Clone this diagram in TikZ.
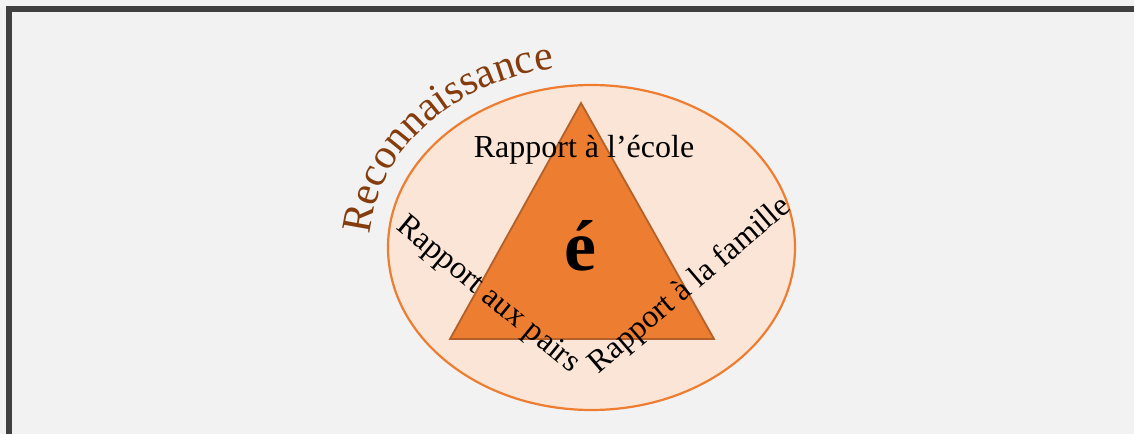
\documentclass[tikz,border=0pt]{standalone}
\usepackage{fontspec}
\setmainfont{Liberation Serif}
\usetikzlibrary{decorations.text}
\definecolor{bg}{HTML}{F2F2F2}
\definecolor{frame}{HTML}{404040}
\definecolor{ellfill}{HTML}{FBE5D6}
\definecolor{orange}{HTML}{ED7D31}
\definecolor{triedge}{HTML}{B4602A}
\definecolor{brownR}{HTML}{843C0C}
\tikzset{
  lbl/.style={font=\fontsize{32}{36}\selectfont, text=black, inner sep=0pt},
}
\begin{document}
\begin{tikzpicture}[x=1pt,y=1pt]
\useasboundingbox (0,0) rectangle (1134,434);
\fill[bg] (0,0) rectangle (1134,434);
\fill[frame] (6,422) rectangle (1134,428);
\fill[frame] (6,0) rectangle (12,428);
% ellipse
\draw[fill=ellfill, draw=orange, line width=2.2pt] (591.5,186.5) ellipse [x radius=203.5, y radius=162.5];
\coordinate (c) at (591.5,186.5);
% triangle
\coordinate (A) at (581,331);
\coordinate (B) at (450,95);
\coordinate (C) at (714,95);
\draw[fill=orange, draw=triedge, line width=1.8pt, line join=miter] (A) -- (B) -- (C) -- cycle;
% curved title
\path[decorate, decoration={text along path, text align=left,
  text={|\fontsize{42}{48}\selectfont\color{brownR}|Reconnaissance}}]
  (370.0,199.2) arc[start angle=176, end angle=96, x radius=222, y radius=182];
% labels
\node[lbl, anchor=base] (ecole) at (584,276) {Rapport à l’école};
\node[lbl, rotate=-39.5] (pairs) at (487.5,138.5) {Rapport aux pairs};
\node[lbl, rotate=40.5] (famille) at (690,148) {Rapport à la famille};
\node[font=\fontsize{72}{80}\selectfont\bfseries, anchor=base, inner sep=0pt] (e) at (580.5,164) {é};
\end{tikzpicture}
\end{document}
